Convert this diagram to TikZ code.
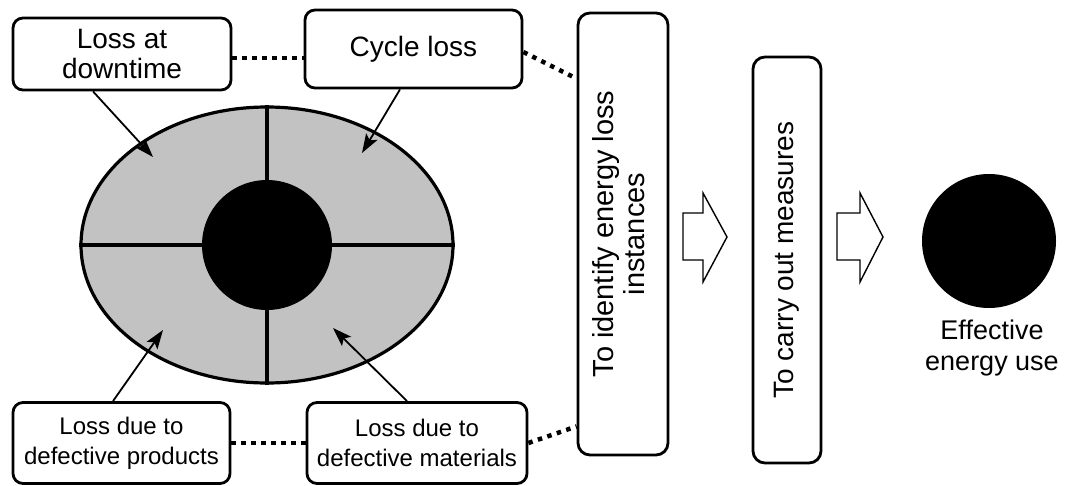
\documentclass[tikz,border=0pt]{standalone}
\usepackage{fontspec}
\setmainfont{Liberation Sans}
\usetikzlibrary{shapes.geometric,arrows.meta}
\begin{document}
\begin{tikzpicture}[x=1pt,y=-1pt,
  lossbox/.style={draw, line width=2.8pt, rounded corners=10pt, fill=white, align=center, inner sep=0pt},
  tallbox/.style={draw, line width=2.8pt, rounded corners=12pt, fill=white, inner sep=0pt},
  dotline/.style={line width=4.5pt, dash pattern=on 4.5pt off 5.5pt},
  pointer/.style={line width=1.8pt, -{Stealth[length=19pt,width=13pt,inset=4pt]}},
  blockarrow/.style={draw, line width=1.4pt, fill=white, line join=miter},
  divider/.style={line width=3.2pt},
  disc/.style={circle, fill=black, inner sep=0pt},
]
\useasboundingbox (0,0) rectangle (1069,485);

% the loss oval, split into four quarters around the black core
\node[ellipse, draw, line width=3.2pt, fill=black!24, minimum width=372pt,
      minimum height=276pt, inner sep=0pt] (oval) at (267,245) {};
\draw[divider] (oval.north) -- (oval.south);
\draw[divider] (oval.west) -- (oval.east);
\node[disc, minimum size=130pt] (core) at (oval.center) {};

% the four kinds of loss
\node[lossbox, minimum width=218pt, minimum height=72pt, font=\fontsize{28}{30}\selectfont]
  (dt) at (122,54) {Loss at\\downtime};
\node[lossbox, minimum width=217pt, minimum height=78pt, font=\fontsize{28}{30}\selectfont]
  (cy) at (413.5,49) {Cycle loss};
\node[lossbox, minimum width=217pt, minimum height=81pt, font=\fontsize{24}{30}\selectfont]
  (dp) at (121.5,443) {Loss due to\\defective products};
\node[lossbox, minimum width=220pt, minimum height=81pt, font=\fontsize{24}{30}\selectfont]
  (dm) at (417,443) {Loss due to\\defective materials};

% pointers into the quarters
\coordinate (pdt) at (153,157);
\coordinate (pcy) at (362,153);
\coordinate (pdp) at (163,330);
\coordinate (pdm) at (333,328);
\draw[pointer] ([xshift=-29pt]dt.south) -- (pdt);
\draw[pointer] ([xshift=-13.5pt]cy.south) -- (pcy);
\draw[pointer] ([xshift=-8.5pt]dp.north) -- (pdp);
\draw[pointer] ([xshift=-10pt]dm.north) -- (pdm);

% the two steps
\node[tallbox, minimum width=90pt, minimum height=442pt, font=\fontsize{29}{31}\selectfont]
  (id) at (623,234) {\rotatebox{90}{\begin{tabular}{@{}c@{}}To identify energy loss\\instances\end{tabular}}};
\node[tallbox, minimum width=68pt, minimum height=406pt, font=\fontsize{28}{30}\selectfont]
  (cm) at (787,260) {\rotatebox{90}{To carry out measures}};

% dotted links between the boxes
\coordinate (t1) at ([yshift=-4pt]dt.east);
\draw[dotline] (t1) -- (t1 -| cy.west);
\coordinate (b1) at (dp.east);
\draw[dotline] (b1) -- (b1 -| dm.west);
\coordinate (t2) at ([yshift=-3pt]cy.east);
\coordinate (t3) at ([yshift=-67pt]id.north west);
\draw[dotline] (t2) -- (t3);
\coordinate (b3) at ([yshift=30pt]id.south west);
\draw[dotline] (dm.east) -- (b3);

% block arrows between the steps
\draw[blockarrow] (683,213) -- (703,213) -- (703,193) -- (727,237) -- (703,282)
  -- (703,260) -- (683,260) -- cycle;
\draw[blockarrow] (837,213) -- (860,213) -- (860,193) -- (883,237) -- (860,282)
  -- (860,260) -- (837,260) -- cycle;

% the outcome
\node[disc, minimum size=134pt] (eff) at (989,241) {};
\node[align=center, inner sep=0pt, font=\fontsize{27}{31}\selectfont]
  (effl) at (992,348) {Effective\\energy use};
\end{tikzpicture}
\end{document}
